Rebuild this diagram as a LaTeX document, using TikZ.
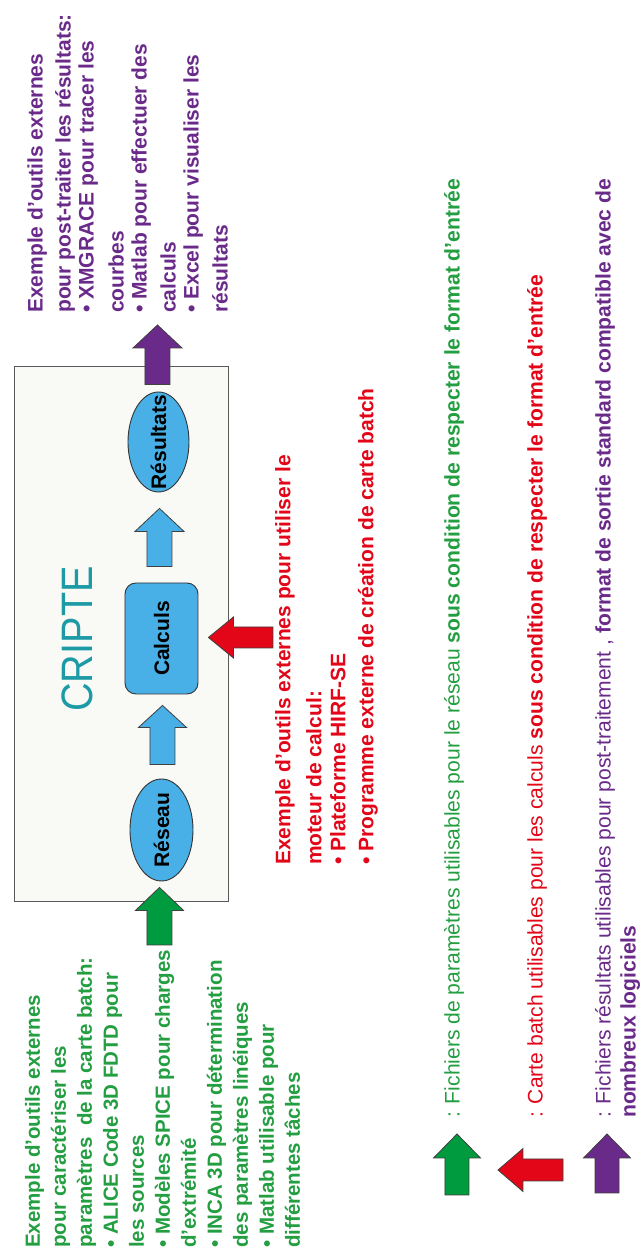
\documentclass[tikz,border=0pt]{standalone}
\usepackage{fontspec}
\setmainfont{Liberation Sans}
\usetikzlibrary{shapes.geometric,calc,positioning}
\definecolor{vertTexte}{RGB}{35,158,65}
\definecolor{vertFleche}{RGB}{0,155,62}
\definecolor{rougeCripte}{RGB}{226,6,24}
\definecolor{violetCripte}{RGB}{106,42,138}
\definecolor{bleuBloc}{RGB}{72,176,230}
\definecolor{sarcelle}{RGB}{28,154,166}
\definecolor{fondCadre}{RGB}{249,249,246}
\tikzset{%
bloc/.style={fill=bleuBloc, draw=black!80, line width=0.9pt, inner sep=0pt, font=\fontsize{21}{24}\selectfont\bfseries},
ovale/.style={bloc, ellipse},
texte/.style={anchor=west, align=left, inner sep=0pt, font=\fontsize{21}{26}\selectfont\bfseries},
legende/.style={anchor=west, align=left, inner sep=0pt, font=\fontsize{21.1}{25}\selectfont}
}
\newcommand{\etiq}[1]{\makebox[0pt]{#1}}
\newcommand{\fleche}[6]{%
  \coordinate (fh) at ($(#2)!#6!(#1)$);
  \filldraw[fill=#3, draw=black!75, line width=0.8pt]
    ($(#1)!#4!90:(#2)$) -- ($(fh)!#4!90:(#2)$) -- ($(fh)!#5!90:(#2)$) -- (#2)
    -- ($(fh)!#5!-90:(#2)$) -- ($(fh)!#4!-90:(#2)$) -- ($(#1)!#4!-90:(#2)$) -- cycle;}

\begin{document}
\begin{tikzpicture}[rotate=90, transform shape, x=1pt, y=1pt]
	\fill[white] (0,0) rectangle (1260,643);
	\useasboundingbox (0,0) rectangle (1260,643);
	\node[draw=black!65, line width=1pt, fill=fondCadre, minimum width=535pt, minimum height=214pt, inner sep=0pt] (cadre) at (625.5,521) {};
	\node[font=\fontsize{44}{44}\selectfont, text=sarcelle, xscale=0.9] (cripte) at (621,566) {CRIPTE};
	\node[ovale, minimum width=102pt, minimum height=63pt] (reseau) at (430,481.5) {\etiq{Réseau}};
	\node[bloc, rounded corners=11pt, minimum width=111pt, minimum height=73pt] (calculs) at (621.5,481.5) {Calculs};
	\node[ovale, minimum width=100pt, minimum height=61pt] (resultats) at (818,484.5) {\etiq{Résultats}};

	\coordinate (entree) at (315,483.5);
	\coordinate (b0) at ($(reseau.west)+(-6,2)$);
	\coordinate (b1a) at ($(reseau.east)+(14,-1)$);
	\coordinate (b1b) at ($(calculs.west)+(-11,-1)$);
	\coordinate (b2a) at ($(calculs.east)+(16,2)$);
	\coordinate (b2b) at ($(resultats.west)+(-16,-1)$);
	\coordinate (b3a) at ($(resultats.east)+(7,1)$);
	\coordinate (sortie) at (935,485.5);
	\coordinate (lot) at (622.5,370);
	\coordinate (b4) at ($(calculs.south)+(1,-10)$);
	\fleche{entree}{b0}{vertFleche}{12.5pt}{24pt}{23pt}
	\fleche{b1a}{b1b}{bleuBloc}{12.5pt}{24pt}{22pt}
	\fleche{b2a}{b2b}{bleuBloc}{12.5pt}{24.5pt}{23pt}
	\fleche{b3a}{sortie}{violetCripte}{12.5pt}{24.5pt}{23pt}
	\fleche{lot}{b4}{rougeCripte}{10.5pt}{20.5pt}{25pt}

	\node[texte, text=vertTexte, font=\fontsize{20.5}{26}\selectfont\bfseries] (outilsreseau) at (12,480.5) {Exemple d'outils externes\\pour caractériser les\\paramètres~ de la carte batch:\\• ALICE Code 3D FDTD pour\\les sources\\• Modèles SPICE pour charges\\d'extrémité\\• INCA 3D pour détermination\\des paramètres linéiques\\• Matlab utilisable pour\\différentes tâches};
	\node[texte, text=rougeCripte] (outilscalcul) at (395,316.5) {Exemple d'outils externes pour utiliser le\\[5pt]moteur de calcul:\\[-2pt]• Plateforme HIRF-SE\\[2pt]• Programme externe de création de carte batch};
	\node[texte, text=violetCripte, font=\fontsize{21}{23}\selectfont\bfseries] (outilsresultats) at (947,515.5) {Exemple d'outils externes\\[5pt]pour post-traiter les résultats:\\• XMGRACE pour tracer les\\[7pt]courbes\\• Matlab pour effectuer des\\[6pt]calculs\\• Excel pour visualiser les\\[6pt]résultats};

	\coordinate (lv1) at (65,186);
	\coordinate (lv2) at (126,186);
	\coordinate (lr1) at (90,80);
	\coordinate (lr2) at (90,145);
	\coordinate (lp1) at (67,36);
	\coordinate (lp2) at (126,36);
	\fleche{lv1}{lv2}{vertFleche}{12pt}{23.5pt}{24pt}
	\fleche{lr1}{lr2}{rougeCripte}{11pt}{21.5pt}{25pt}
	\fleche{lp1}{lp2}{violetCripte}{12pt}{23.5pt}{24pt}
	\node[legende, text=vertTexte] (legvert) at (142,189) {: Fichiers de paramètres utilisables pour le réseau \textbf{sous condition de respecter le format d'entrée}};
	\node[legende, text=rougeCripte] (legrouge) at (142,106) {: Carte batch utilisables pour les calculs \textbf{sous condition de respecter le format d'entrée}};
	\node[legende, text=violetCripte] (legviolet) at (142,25.5) {: Fichiers résultats utilisables pour post-traitement , \textbf{format de sortie standard compatible avec de}\\\textbf{nombreux logiciels}};
\end{tikzpicture}
\end{document}
